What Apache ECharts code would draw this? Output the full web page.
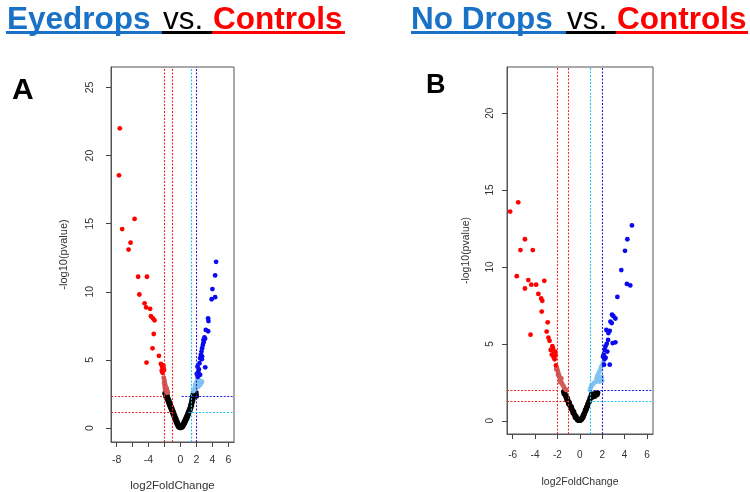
<!DOCTYPE html>
<html><head><meta charset="utf-8">
<script src="https://cdn.jsdelivr.net/npm/echarts@6/dist/echarts.min.js"></script>
<style>html,body{margin:0;padding:0;background:#fff}#c{width:750px;height:492px}</style>
</head><body><div id="c"></div>
<script>
// ---------- Panel A (Eyedrops vs. Controls) ----------
const xTicksA = [-8, -6, -4, -2, 0, 2, 4, 6];
const xLabelsA = [-8, -4, 0, 2, 4, 6];
const yTicksA = [0, 5, 10, 15, 20, 25];
const redA = [[-7.6,22.0],[-7.7,18.55],[-5.75,15.35],[-7.3,14.6],[-6.25,13.6],[-6.5,13.1],
  [-5.3,11.1],[-4.2,11.1],[-5.15,9.8],[-4.5,9.15],[-4.3,8.85],[-3.8,8.75],[-3.7,8.2],[-3.45,8.05],
  [-3.25,7.9],[-3.35,6.9],[-3.5,5.85],[-2.7,5.3],[-4.25,4.8],[-2.45,4.7],[-2.3,4.5],[-2.2,4.35],
  [-2.35,4.2],[-2.1,4.4],[-2.25,4.05],[-2.15,4.6],[-2.05,4.25]];
const salmonA = [[-2.1,3.7],[-2.05,3.55],[-2.0,3.45],[-1.95,3.3],[-1.9,3.15],[-2.0,3.1],[-1.85,3.0],
  [-1.75,2.95],[-1.8,2.85],[-1.7,2.8],[-1.65,2.7],[-1.9,2.75],[-1.6,2.6],[-1.75,2.6],[-2.05,3.3],[-1.95,2.9]];
const blackA = [[-1.95,2.55],[-1.8,2.5],[-1.7,2.45],[-1.85,2.35],[-1.65,2.3],[-1.75,2.2],[-1.55,2.15],
  [-1.6,2.05],[-1.45,2.0],[-1.5,1.9],[-1.35,1.85],[-1.4,1.75],[-1.25,1.7],[-1.3,1.6],[-1.15,1.55],
  [-1.2,1.45],[-1.05,1.4],[-1.1,1.3],[-0.95,1.25],[-1.0,1.15],[-0.85,1.1],[-0.9,1.0],[-0.75,0.95],
  [-0.8,0.85],[-0.65,0.8],[-0.7,0.7],[-0.55,0.65],[-0.6,0.55],[-0.45,0.5],[-0.5,0.4],[-0.35,0.35],
  [-0.4,0.28],[-0.25,0.22],[-0.3,0.15],[-0.15,0.12],[-0.2,0.07],[-0.08,0.05],[0,0.02],[-0.05,0.1],
  [0.08,0.05],[0.15,0.12],[0.2,0.07],[0.25,0.2],[0.3,0.15],[0.35,0.3],[0.4,0.25],[0.45,0.42],[0.5,0.35],
  [0.55,0.55],[0.6,0.48],[0.65,0.68],[0.7,0.6],[0.75,0.82],[0.8,0.72],[0.85,0.95],[0.9,0.88],[0.95,1.1],
  [1.0,1.02],[1.05,1.25],[1.1,1.18],[1.15,1.4],[1.2,1.32],[1.25,1.55],[1.3,1.5],[1.3,1.72],[1.38,1.65],
  [1.38,1.9],[1.45,1.85],[1.45,2.1],[1.55,2.05],[1.5,2.3],[1.6,2.25],[1.6,2.5],[1.7,2.4],[1.8,2.5],
  [1.9,2.45],[2.0,2.35],[1.75,2.6],[1.95,2.6]];
const lightBlueA = [[1.6,2.7],[1.75,2.85],[1.8,3.0],[1.9,2.9],[2.0,3.1],[2.1,3.2],[2.2,3.0],[2.3,3.3],
  [2.45,3.15],[2.6,3.3],[2.7,3.4],[1.95,3.3],[2.1,3.5],[2.25,3.55],[1.85,3.2],[2.5,3.45]];
const blueA = [[4.46,12.2],[4.34,11.2],[4.0,10.2],[3.9,9.45],[4.34,9.6],[3.46,8.05],[3.5,7.85],[3.17,7.2],
  [3.46,7.1],[3.0,6.65],[3.08,6.55],[2.88,6.47],[2.8,6.1],[2.71,5.86],[2.63,5.61],[2.55,5.37],[2.7,5.25],
  [2.46,5.12],[2.67,5.05],[2.38,4.75],[3.1,4.45],[2.13,4.5],[2.25,4.07],[2.04,3.97],[2.46,3.9],[2.3,4.3],
  [2.15,3.75],[2.9,6.3]];

// ---------- Panel B (No Drops vs. Controls) ----------
const xTicksB = [-6, -4, -2, 0, 2, 4, 6];
const yTicksB = [0, 5, 10, 15, 20];
const redB = [[-6.22,13.6],[-5.5,14.2],[-4.9,11.8],[-5.3,11.1],[-4.2,11.1],[-5.63,9.4],[-4.6,9.15],
  [-4.9,8.6],[-4.33,8.85],[-3.9,8.85],[-3.17,9.1],[-3.7,8.25],[-3.45,7.95],[-3.35,7.8],[-3.4,7.1],
  [-2.87,6.4],[-2.96,5.8],[-2.8,5.4],[-2.7,5.2],[-4.4,5.6],[-2.6,4.6],[-2.45,4.85],[-2.3,4.4],
  [-2.5,4.3],[-2.2,4.5],[-2.35,4.15],[-2.25,4.0],[-2.4,4.7],[-2.15,4.25],[-2.13,3.6]];
const salmonB = [[-2.05,3.45],[-2.0,3.3],[-1.95,3.2],[-1.9,3.05],[-1.85,2.95],[-1.8,2.8],[-1.75,2.7],
  [-1.7,2.6],[-1.6,2.45],[-1.55,2.35],[-1.45,2.25],[-1.4,2.15],[-1.3,2.05],[-1.2,2.0],[-1.95,3.0],
  [-1.75,2.5],[-1.65,2.75],[-2.1,3.35]];
const blackB = [[-1.45,1.9],[-1.35,1.85],[-1.4,1.75],[-1.3,1.7],[-1.25,1.6],[-1.2,1.5],[-1.1,1.45],
  [-1.15,1.35],[-1.05,1.3],[-0.95,1.2],[-1.0,1.1],[-0.9,1.05],[-0.85,0.95],[-0.75,0.9],[-0.8,0.8],
  [-0.7,0.75],[-0.65,0.65],[-0.55,0.6],[-0.6,0.5],[-0.5,0.45],[-0.45,0.35],[-0.35,0.3],[-0.4,0.22],
  [-0.3,0.2],[-0.25,0.12],[-0.15,0.1],[-0.2,0.05],[-0.08,0.04],[0,0.02],
  [0.08,0.05],[0.15,0.1],[0.2,0.2],[0.28,0.22],[0.3,0.35],[0.38,0.4],[0.4,0.5],[0.48,0.58],[0.5,0.7],
  [0.58,0.75],[0.6,0.88],[0.68,0.95],[0.7,1.08],[0.78,1.12],[0.8,1.25],[0.88,1.3],[0.9,1.45],[0.98,1.5],
  [1.0,1.62],[1.1,1.7],[1.2,1.65],[1.3,1.72],[1.4,1.8],[1.5,1.78],[1.55,1.7],[1.35,1.6],[1.15,1.55],
  [1.6,1.82],[1.05,1.75]];
const lightBlueB = [[0.9,2.0],[0.95,2.1],[1.0,2.2],[1.05,2.3],[1.15,2.35],[1.25,2.45],[1.35,2.5],
  [1.45,2.55],[1.6,2.6],[1.75,2.55],[1.85,2.7],[2.0,2.6],[1.7,2.8],[1.55,2.9],[1.65,3.05],[1.75,3.2],
  [1.85,3.35],[1.9,3.5],[2.0,3.6],[2.05,3.75],[1.95,2.85],[1.5,2.75]];
const blueB = [[4.65,12.7],[4.24,11.8],[4.03,11.05],[3.7,9.8],[4.2,8.9],[4.5,8.8],[3.35,8.05],[2.87,6.9],
  [3.0,6.8],[3.17,6.65],[2.73,6.45],[2.85,6.35],[2.37,5.9],[2.67,5.85],[2.55,5.7],[2.52,5.25],[3.17,5.1],
  [2.93,5.05],[2.28,4.83],[2.4,5.0],[2.22,4.6],[2.13,4.3],[2.67,3.65],[2.16,3.65],[2.3,4.1],[2.45,4.5],
  [2.2,4.0],[2.07,4.17]];

// thresholds
const vLinesA = [-2, -1, 1.3, 2];
const hLinesA = [2.35, 1.18];
const vLinesB = [-2, -1, 0.9, 2];
const hLinesB = [2.0, 1.3];

const FONT = '"Liberation Sans", Arial, sans-serif';
const C_RED = '#ff0000', C_SALMON = '#cf5b57', C_LB = '#82c2ee', C_BLUE = '#0a0af0', C_BLACK = '#000000';
const L_RED = '#ee2a2a', L_CYAN = '#22c2ee', L_BLUE = '#2222dd';
const TITLE_BLUE = '#1a72c7';

const xRangeA = [-8.7, 6.7], yRangeA = [-1.03, 26.5];
const xRangeB = [-6.5, 6.53], yRangeB = [-0.86, 23.0];

function ml(color, data){
  return {
    silent: true, symbol: ['none','none'], label: {show: false}, animation: false,
    lineStyle: {color: color, type: [2, 1.5], width: 1.1, opacity: 1},
    emphasis: {disabled: true},
    data: data
  };
}
function sc(idx, data, color, size, extra){
  return Object.assign({
    type: 'scatter', xAxisIndex: idx, yAxisIndex: idx, data: data,
    symbol: 'circle', symbolSize: size, silent: true, animation: false,
    itemStyle: {color: color, opacity: 1}
  }, extra || {});
}
function xAx(idx, xr, ticks, labels, fs, margin, nameGap, nfs){
  return {
    gridIndex: idx, type: 'value', min: xr[0], max: xr[1],
    axisLine: {show: true, onZero: false, lineStyle: {color: '#555'}},
    axisTick: {show: true, length: 5, customValues: ticks, lineStyle: {color: '#444'}},
    axisLabel: {customValues: labels, fontSize: fs, color: '#333', margin: margin, fontFamily: FONT},
    splitLine: {show: false},
    name: 'log2FoldChange', nameLocation: 'middle', nameGap: nameGap,
    nameTextStyle: {fontSize: nfs, color: '#333', fontFamily: FONT}
  };
}
function yAx(idx, yr, ticks, fs, margin, nameGap, nfs){
  return {
    gridIndex: idx, type: 'value', min: yr[0], max: yr[1],
    axisLine: {show: true, onZero: false, lineStyle: {color: '#555'}},
    axisTick: {show: true, length: 5, customValues: ticks, lineStyle: {color: '#444'}},
    axisLabel: {customValues: ticks, rotate: 90, fontSize: fs, color: '#333', margin: margin, fontFamily: FONT},
    splitLine: {show: false},
    name: '-log10(pvalue)', nameLocation: 'middle', nameGap: nameGap,
    nameTextStyle: {fontSize: nfs, color: '#333', fontFamily: FONT}
  };
}
function redLines(xr, v, h){
  return ml(L_RED, [
    {xAxis: v[0]}, {xAxis: v[1]},
    [{coord: [xr[0], h[0]]}, {coord: [v[0], h[0]]}],
    [{coord: [xr[0], h[1]]}, {coord: [v[1], h[1]]}]
  ]);
}
function blueLines(xr, v, h, start){
  return ml(L_BLUE, [
    {xAxis: v[3]},
    [{coord: [start, h[0]]}, {coord: [xr[1], h[0]]}]
  ]);
}
function cyanLines(xr, v, h, start){
  return ml(L_CYAN, [
    {xAxis: v[2]},
    [{coord: [start, h[1]]}, {coord: [xr[1], h[1]]}]
  ]);
}

const chart = echarts.init(document.getElementById('c'), null, {renderer: 'canvas'});
chart.setOption({
  animation: false,
  backgroundColor: '#ffffff',
  grid: [
    {left: 111, top: 67, width: 123, height: 375, show: true, borderColor: '#555', borderWidth: 1,
     backgroundColor: 'transparent', containLabel: false, outerBoundsMode: 'none'},
    {left: 507, top: 67, width: 146, height: 367, show: true, borderColor: '#555', borderWidth: 1,
     backgroundColor: 'transparent', containLabel: false, outerBoundsMode: 'none'}
  ],
  xAxis: [
    xAx(0, xRangeA, xTicksA, xLabelsA, 10.5, 13, 38, 11.5),
    xAx(1, xRangeB, xTicksB, xTicksB, 10, 16, 43, 10.5)
  ],
  yAxis: [
    yAx(0, yRangeA, yTicksA, 10.5, 15, 42, 11),
    yAx(1, yRangeB, yTicksB, 10, 12, 35, 10.5)
  ],
  series: [
    sc(0, [], C_RED, 4.5, {markLine: redLines(xRangeA, vLinesA, hLinesA)}),
    sc(0, [], C_BLUE, 4.5, {markLine: blueLines(xRangeA, vLinesA, hLinesA, 0.15)}),
    sc(0, [], C_LB, 4.5, {markLine: cyanLines(xRangeA, vLinesA, hLinesA, 1.0)}),
    sc(0, blackA, C_BLACK, 5.3),
    sc(0, salmonA, C_SALMON, 4.8),
    sc(0, lightBlueA, C_LB, 4.8),
    sc(0, redA, C_RED, 4.8),
    sc(0, blueA, C_BLUE, 4.8),
    sc(1, [], C_RED, 4.5, {markLine: redLines(xRangeB, vLinesB, hLinesB)}),
    sc(1, [], C_BLUE, 4.5, {markLine: blueLines(xRangeB, vLinesB, hLinesB, 0.9)}),
    sc(1, [], C_LB, 4.5, {markLine: cyanLines(xRangeB, vLinesB, hLinesB, 0.9)}),
    sc(1, blackB, C_BLACK, 5.3),
    sc(1, salmonB, C_SALMON, 4.8),
    sc(1, lightBlueB, C_LB, 4.8),
    sc(1, redB, C_RED, 4.8),
    sc(1, blueB, C_BLUE, 4.8)
  ],
  graphic: [
    {type: 'text', x: 7, y: 20, style: {text: 'Eyedrops', fontSize: 31.5, fontWeight: 'bold', fontFamily: FONT, fill: TITLE_BLUE, align: 'left', verticalAlign: 'middle'}},
    {type: 'text', x: 163, y: 20, style: {text: 'vs.', fontSize: 31.5, fontWeight: 'normal', fontFamily: FONT, fill: '#000', align: 'left', verticalAlign: 'middle'}},
    {type: 'text', x: 213, y: 20, style: {text: 'Controls', fontSize: 31.5, fontWeight: 'bold', fontFamily: FONT, fill: C_RED, align: 'left', verticalAlign: 'middle'}},
    {type: 'rect', shape: {x: 6, y: 31, width: 156, height: 3}, style: {fill: TITLE_BLUE}},
    {type: 'rect', shape: {x: 162, y: 31, width: 50, height: 3}, style: {fill: '#000'}},
    {type: 'rect', shape: {x: 212, y: 31, width: 133, height: 3}, style: {fill: C_RED}},

    {type: 'text', x: 411, y: 20, style: {text: 'No Drops', fontSize: 31.5, fontWeight: 'bold', fontFamily: FONT, fill: TITLE_BLUE, align: 'left', verticalAlign: 'middle'}},
    {type: 'text', x: 567, y: 20, style: {text: 'vs.', fontSize: 31.5, fontWeight: 'normal', fontFamily: FONT, fill: '#000', align: 'left', verticalAlign: 'middle'}},
    {type: 'text', x: 617, y: 20, style: {text: 'Controls', fontSize: 31.5, fontWeight: 'bold', fontFamily: FONT, fill: C_RED, align: 'left', verticalAlign: 'middle'}},
    {type: 'rect', shape: {x: 411, y: 31, width: 155, height: 3}, style: {fill: TITLE_BLUE}},
    {type: 'rect', shape: {x: 566, y: 31, width: 50, height: 3}, style: {fill: '#000'}},
    {type: 'rect', shape: {x: 616, y: 31, width: 132, height: 3}, style: {fill: C_RED}},

    {type: 'text', x: 12, y: 91, style: {text: 'A', fontSize: 30, fontWeight: 'bold', fontFamily: FONT, fill: '#000', align: 'left', verticalAlign: 'middle'}},
    {type: 'text', x: 426, y: 86, style: {text: 'B', fontSize: 27, fontWeight: 'bold', fontFamily: FONT, fill: '#000', align: 'left', verticalAlign: 'middle'}}
  ]
});
</script></body></html>
